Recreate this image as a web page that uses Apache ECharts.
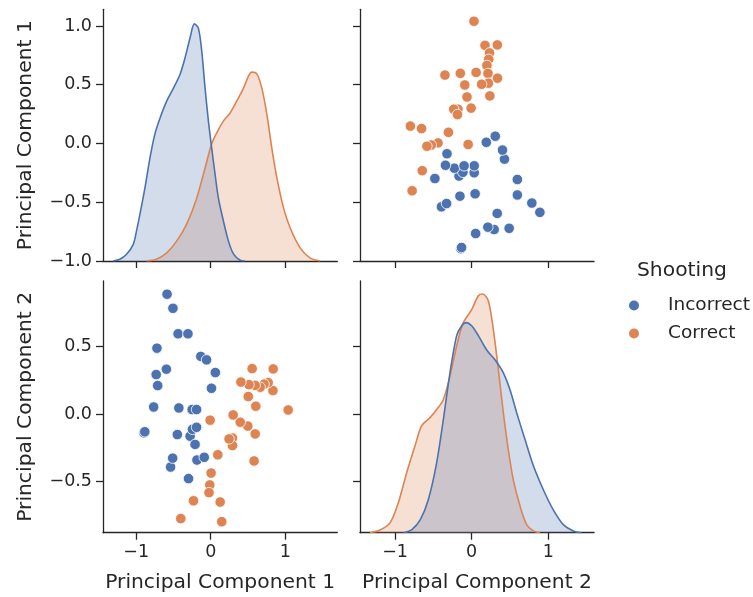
<!DOCTYPE html>
<html>
<head>
<meta charset="utf-8">
<script src="https://cdn.jsdelivr.net/npm/echarts@6/dist/echarts.min.js"></script>
<style>
html,body{margin:0;padding:0;background:#fff;}
#chart{width:753px;height:597px;}
</style>
</head>
<body>
<div id="chart"></div>
<script>
// ---- data ----
const categories = ['Incorrect', 'Correct'];
const pc1Incorrect = [-0.895,-0.885,-0.766,-0.732,-0.722,-0.712,-0.595,-0.586,-0.539,-0.511,-0.507,-0.298,-0.448,-0.428,-0.438,-0.306,-0.277,-0.249,-0.245,-0.210,-0.190,-0.190,-0.185,-0.133,-0.087,-0.056,0.010,0.062];
const pc2Incorrect = [-0.140,-0.132,0.052,0.293,0.489,0.211,0.333,0.890,-0.394,-0.328,0.785,-0.480,-0.153,0.045,0.596,0.596,-0.165,0.033,-0.114,-0.226,0.033,-0.099,-0.342,0.428,-0.322,0.402,0.191,0.308];
const pc1Correct = [1.040,0.839,0.835,0.771,0.716,0.664,0.605,0.596,0.597,0.582,0.556,0.513,0.504,0.498,0.405,0.396,0.301,0.292,0.292,0.246,0.148,0.127,0.095,0.005,-0.008,-0.013,-0.023,-0.231,-0.402];
const pc2Correct = [0.030,0.335,0.174,0.233,0.222,0.199,0.058,0.213,-0.148,-0.349,0.337,0.218,0.130,-0.090,0.237,-0.061,-0.007,-0.179,-0.234,-0.185,-0.800,-0.654,-0.303,-0.439,-0.046,-0.527,-0.584,-0.645,-0.777];

// density curves: [value, density]
const kdePc1Incorrect = [[-1.31,0],[-1.22,0.005],[-1.13,0.019],[-1.04,0.047],[-0.996,0.085],[-0.95,0.132],[-0.883,0.206],[-0.816,0.290],[-0.749,0.358],[-0.68,0.403],[-0.59,0.451],[-0.50,0.487],[-0.41,0.527],[-0.345,0.572],[-0.278,0.628],[-0.22,0.668],[-0.166,0.656],[-0.121,0.592],[-0.076,0.487],[-0.031,0.394],[0.013,0.318],[0.058,0.245],[0.103,0.177],[0.170,0.113],[0.238,0.056],[0.305,0.020],[0.395,0.002],[0.46,0]];
const kdePc1Correct = [[-0.86,0],[-0.73,0.005],[-0.59,0.023],[-0.457,0.056],[-0.323,0.104],[-0.188,0.177],[-0.076,0.262],[0.013,0.330],[0.081,0.361],[0.170,0.394],[0.26,0.417],[0.35,0.451],[0.44,0.487],[0.507,0.521],[0.55,0.532],[0.619,0.527],[0.686,0.487],[0.753,0.414],[0.82,0.318],[0.888,0.234],[0.978,0.149],[1.067,0.093],[1.20,0.037],[1.336,0.008],[1.47,0]];
const kdePc2Incorrect = [[-0.89,0],[-0.78,0.007],[-0.67,0.029],[-0.565,0.074],[-0.457,0.156],[-0.37,0.252],[-0.283,0.357],[-0.196,0.440],[-0.13,0.462],[-0.074,0.469],[0,0.462],[0.087,0.440],[0.196,0.408],[0.304,0.386],[0.413,0.357],[0.5,0.319],[0.587,0.268],[0.696,0.208],[0.804,0.150],[0.935,0.096],[1.065,0.051],[1.196,0.018],[1.326,0.004],[1.43,0]];
const kdePc2Correct = [[-1.326,0],[-1.196,0.006],[-1.065,0.022],[-0.957,0.067],[-0.848,0.134],[-0.739,0.194],[-0.652,0.239],[-0.543,0.257],[-0.457,0.275],[-0.37,0.297],[-0.283,0.350],[-0.196,0.417],[-0.109,0.469],[0,0.498],[0.087,0.529],[0.143,0.533],[0.217,0.518],[0.283,0.453],[0.348,0.364],[0.413,0.268],[0.478,0.185],[0.543,0.118],[0.63,0.060],[0.717,0.018],[0.804,0.004],[0.89,0]];

const colTicks = [-1, 0, 1];
const row1Ticks = [-1.0, -0.5, 0.0, 0.5, 1.0];
const row2Ticks = [-0.5, 0.0, 0.5];
const axisNames = ['Principal Component 1', 'Principal Component 2'];
const legendTitle = 'Shooting';

// ---- styling ----
const COLORS = ['#4C72B0', '#DD8452'];
const FONT = 'DejaVu Sans';
const TXT = '#262626';
const minus = s => s.replace('-', '\u2212');
const fmt1 = v => minus(Number(v).toFixed(1));
const fmt0 = v => minus(String(Math.round(v)));

const col = [{left:103, width:234.3, min:-1.446, max:1.699}, {left:360, width:234, min:-1.457, max:1.596}];
const row = [{top:9.3, height:251.7, min:-1.0, max:1.142}, {top:281, height:251.7, min:-0.882, max:0.988}];

function grid(r, c){ return {left:col[c].left, top:row[r].top, width:col[c].width, height:row[r].height, containLabel:false}; }

function xAx(gi, c, labels){
  return {
    type:'value', gridIndex:gi, min:col[c].min, max:col[c].max,
    axisLine:{show:true, onZero:false, lineStyle:{color:TXT, width:1.3}},
    axisTick:{show:true, inside:false, length:7, customValues:colTicks, lineStyle:{color:TXT, width:1.3}},
    axisLabel:{show:labels, customValues:colTicks, formatter:fmt0, color:TXT, fontSize:17.5, fontFamily:FONT, margin:11},
    splitLine:{show:false},
    name: labels ? axisNames[c] : '', nameLocation:'middle', nameGap:40,
    nameTextStyle:{color:TXT, fontSize:20.3, fontFamily:FONT}
  };
}
function yAx(gi, r, labels){
  const ticks = r === 0 ? row1Ticks : row2Ticks;
  return {
    type:'value', gridIndex:gi, min:row[r].min, max:row[r].max,
    axisLine:{show:true, onZero:false, lineStyle:{color:TXT, width:1.3}},
    axisTick:{show:true, inside:false, length:7, customValues:ticks, lineStyle:{color:TXT, width:1.3}},
    axisLabel:{show:labels, customValues:ticks, formatter:fmt1, color:TXT, fontSize:17.5, fontFamily:FONT, margin:11},
    splitLine:{show:false},
    name: labels ? axisNames[r] : '', nameLocation:'middle', nameGap:67,
    nameTextStyle:{color:TXT, fontSize:20.3, fontFamily:FONT}
  };
}
function densAx(gi, max){
  return {type:'value', gridIndex:gi, min:0, max:max, show:false, splitLine:{show:false}};
}

const zip = (a, b) => a.map((v, i) => [v, b[i]]);

function scatter(name, ci, xi, yi, data){
  return {
    name:name, type:'scatter', xAxisIndex:xi, yAxisIndex:yi, data:data,
    symbol:'circle', symbolSize:10.5,
    itemStyle:{color:COLORS[ci], borderColor:'#ffffff', borderWidth:0.8, opacity:1},
    emphasis:{disabled:true}, z:3
  };
}
function kde(name, ci, xi, yi, data){
  return {
    name:name, type:'line', xAxisIndex:xi, yAxisIndex:yi, data:data,
    smooth:0.3, showSymbol:false, symbol:'none',
    lineStyle:{color:COLORS[ci], width:1.6},
    areaStyle:{color:COLORS[ci], opacity:0.25, origin:'start'},
    itemStyle:{color:COLORS[ci]},
    emphasis:{disabled:true}, z:2
  };
}

const option = {
  animation:false,
  backgroundColor:'#ffffff',
  textStyle:{fontFamily:FONT},
  grid:[grid(0,0), grid(0,1), grid(1,0), grid(1,1)],
  xAxis:[xAx(0,0,false), xAx(1,1,false), xAx(2,0,true), xAx(3,1,true)],
  yAxis:[yAx(0,0,true), yAx(1,0,false), yAx(2,1,true), yAx(3,1,false), densAx(0,0.709), densAx(3,0.562)],
  legend:{
    data:[{name:categories[0], icon:'circle'}, {name:categories[1], icon:'circle'}],
    orient:'vertical', left:622, top:291, itemWidth:12, itemHeight:12, itemGap:9,
    textStyle:{color:TXT, fontSize:18.5, fontFamily:FONT, padding:[0,0,0,23]},
    selectedMode:false
  },
  graphic:[{
    type:'text', left:637, top:261,
    style:{text:legendTitle, fill:TXT, fontSize:20.3, fontFamily:FONT}
  }],
  series:[
    scatter(categories[0], 0, 1, 1, zip(pc2Incorrect, pc1Incorrect)),
    scatter(categories[1], 1, 1, 1, zip(pc2Correct, pc1Correct)),
    scatter(categories[0], 0, 2, 2, zip(pc1Incorrect, pc2Incorrect)),
    scatter(categories[1], 1, 2, 2, zip(pc1Correct, pc2Correct)),
    kde(categories[1], 1, 0, 4, kdePc1Correct),
    kde(categories[0], 0, 0, 4, kdePc1Incorrect),
    kde(categories[1], 1, 3, 5, kdePc2Correct),
    kde(categories[0], 0, 3, 5, kdePc2Incorrect)
  ]
};

const chart = echarts.init(document.getElementById('chart'), null, {renderer:'canvas'});
chart.setOption(option);
</script>
</body>
</html>
